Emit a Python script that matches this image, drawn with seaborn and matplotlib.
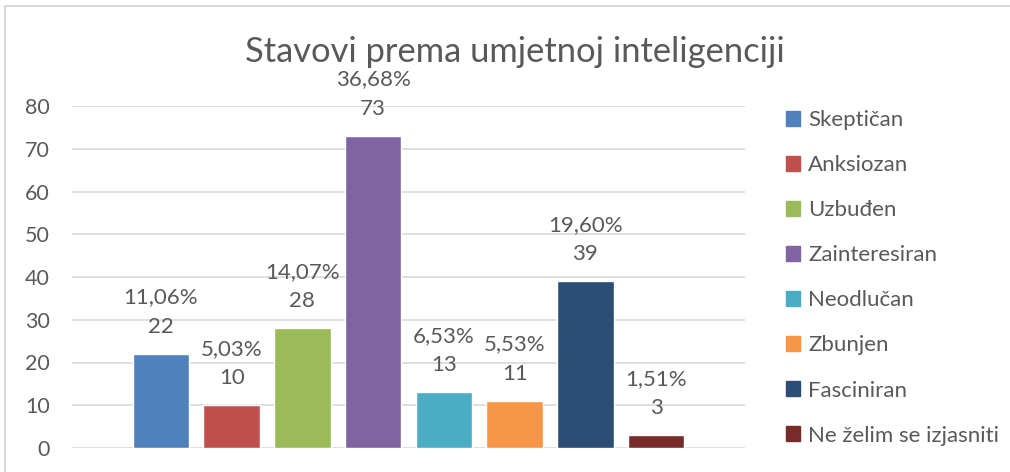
import matplotlib
matplotlib.use("Agg")
import matplotlib.pyplot as plt
import seaborn as sns
import pandas as pd

# data
categories = ["Skeptičan", "Anksiozan", "Uzbuđen", "Zainteresiran",
              "Neodlučan", "Zbunjen", "Fasciniran", "Ne želim se izjasniti"]
counts = [22, 10, 28, 73, 13, 11, 39, 3]
percents = ["11,06%", "5,03%", "14,07%", "36,68%", "6,53%", "5,53%", "19,60%", "1,51%"]
colors = ["#4F81BD", "#C0504D", "#9BBB59", "#8064A2",
          "#4BACC6", "#F79646", "#2C4D75", "#772C2A"]
yticks = [0, 10, 20, 30, 40, 50, 60, 70, 80]

df = pd.DataFrame({"Stav": categories, "Broj": counts})

sns.set_style("white")
plt.rcParams["font.family"] = ["Lato", "DejaVu Sans"]
text_col = "#595959"

fig = plt.figure(figsize=(10.10, 4.72), dpi=100)
ax = fig.add_axes([72 / 1010, 1 - 448 / 472, (745 - 72) / 1010, (448 - 106) / 472])

sns.barplot(data=df, x="Stav", y="Broj", hue="Stav", palette=colors,
            dodge=False, width=0.8, legend=False, ax=ax, saturation=1)

# two-line data labels: percentage above, count below
for i, (c, p) in enumerate(zip(counts, percents)):
    ax.text(i, c + 6.3, str(c), ha="center", va="center",
            fontsize=16, color=text_col)
    ax.text(i, c + 13.2, p, ha="center", va="center",
            fontsize=16, color=text_col, clip_on=False)

ax.set_xlim(-1.257, 8.257)
ax.set_ylim(0, 80)
ax.set_yticks(yticks)
ax.set_xticks([])
ax.set_xlabel("")
ax.set_ylabel("")
ax.yaxis.grid(True, color="#D9D9D9", linewidth=1.2)
ax.set_axisbelow(True)
for s in ax.spines.values():
    s.set_visible(False)
ax.tick_params(axis="y", length=0, labelsize=15.5, labelcolor=text_col, pad=16)

# legend on the right
handles = [plt.Rectangle((0, 0), 1, 1, color=col) for col in colors]
fig.legend(handles, categories, loc="upper left", bbox_to_anchor=(777 / 1010, 1 - 101 / 472),
           frameon=False, fontsize=16, labelcolor=text_col, handlelength=0.65,
           handleheight=0.65, handletextpad=0.35, labelspacing=1.13, borderaxespad=0)

fig.text(515 / 1010, 1 - 62 / 472, "Stavovi prema umjetnoj inteligenciji", ha="center",
         va="baseline", fontsize=24.8, color=text_col)

# chart frame (left and top edges visible)
fig.add_artist(plt.Line2D([5 / 1010, 5 / 1010], [0, 1 - 6 / 472], color="#D9D9D9", lw=1.5))
fig.add_artist(plt.Line2D([5 / 1010, 1], [1 - 6 / 472, 1 - 6 / 472], color="#D9D9D9", lw=1.5))

fig.savefig("out.png", dpi=100)
